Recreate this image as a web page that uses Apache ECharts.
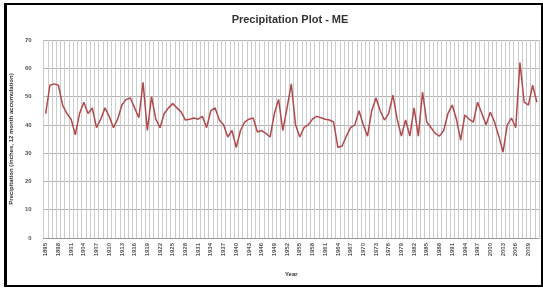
<!DOCTYPE html>
<html>
<head>
<meta charset="utf-8">
<script src="https://cdn.jsdelivr.net/npm/echarts@6/dist/echarts.min.js"></script>
<style>
  html, body { margin: 0; padding: 0; background: #fff; }
  #frame { position: absolute; left: 4px; top: 3px; width: 534px; height: 280px; border: 2px solid #000; border-left-width: 3px; }
  #chart { position: absolute; left: 0; top: 0; width: 543px; height: 289px; }
</style>
</head>
<body>
<div id="frame"></div>
<div id="chart"></div>
<script>
// years 1895 - 2011, 12 month accumulated precipitation (inches)
const years = [];
for (let y = 1895; y <= 2011; y++) years.push(String(y));

const precip = [
  44, 54, 54.5, 54, 47, 44, 42, 36.5, 44, 48,
  44, 46, 39, 42, 46, 43, 39, 42, 47, 49,
  49.5, 46, 42.5, 55, 38, 50, 42, 39, 44, 46,
  47.5, 46, 44.5, 41.7, 42, 42.4, 42, 43, 39, 45,
  46, 41.7, 40, 35.7, 38, 32, 38, 41, 42, 42.4,
  37.5, 38, 37, 35.7, 44, 49, 38, 46, 54.5, 40,
  35.7, 39, 40, 42, 43, 42.5, 42, 41.7, 41, 32,
  32.5, 36, 39, 40, 45, 40, 36, 45, 49.5, 45,
  41.7, 44, 50.5, 42, 36, 41.7, 36, 46, 36, 51.6,
  41, 39, 37, 36, 38, 44, 47, 42, 34.6, 43.5,
  42, 41, 48, 44, 40, 44.5, 41, 36, 30.4, 40,
  42.4, 39, 62, 48, 47, 54, 48
];

const yTicks = [0, 10, 20, 30, 40, 50, 60, 70];

const chart = echarts.init(document.getElementById('chart'));
chart.setOption({
  animation: false,
  title: {
    text: 'Precipitation Plot - ME',
    left: 285,
    textAlign: 'center',
    top: 9,
    textStyle: { fontFamily: 'Liberation Sans', fontSize: 11, fontWeight: 'bold', color: '#333' }
  },
  grid: { left: 42, top: 40, width: 497, height: 198 },
  xAxis: {
    type: 'category',
    data: years,
    boundaryGap: true,
    name: 'Year',
    nameLocation: 'middle',
    nameGap: 33,
    nameTextStyle: { fontFamily: 'Liberation Sans', fontSize: 6, fontWeight: 'bold', color: '#333' },
    axisLine: { lineStyle: { color: '#999' } },
    axisTick: { show: false },
    axisLabel: {
      interval: 2,
      rotate: 90,
      fontFamily: 'Liberation Sans',
      fontSize: 6,
      fontWeight: 'bold',
      color: '#555',
      margin: 5
    },
    splitLine: { show: true, interval: 0, lineStyle: { color: '#cccccc', width: 1 } }
  },
  yAxis: {
    type: 'value',
    min: yTicks[0],
    max: yTicks[yTicks.length - 1],
    interval: 10,
    name: 'Precipitation (inches, 12 month accumulation)',
    nameLocation: 'middle',
    nameGap: 27,
    nameTextStyle: { fontFamily: 'Liberation Sans', fontSize: 6, fontWeight: 'bold', color: '#333' },
    axisLine: { show: false },
    axisTick: { show: false },
    axisLabel: { fontFamily: 'Liberation Sans', fontSize: 6, fontWeight: 'bold', color: '#555', margin: 12 },
    splitLine: { lineStyle: { color: '#b3b3b3', width: 1 } }
  },
  series: [{
    type: 'line',
    data: precip,
    symbol: 'none',
    lineStyle: { color: '#b04a4c', width: 1.5 }
  }]
});
</script>
</body>
</html>
